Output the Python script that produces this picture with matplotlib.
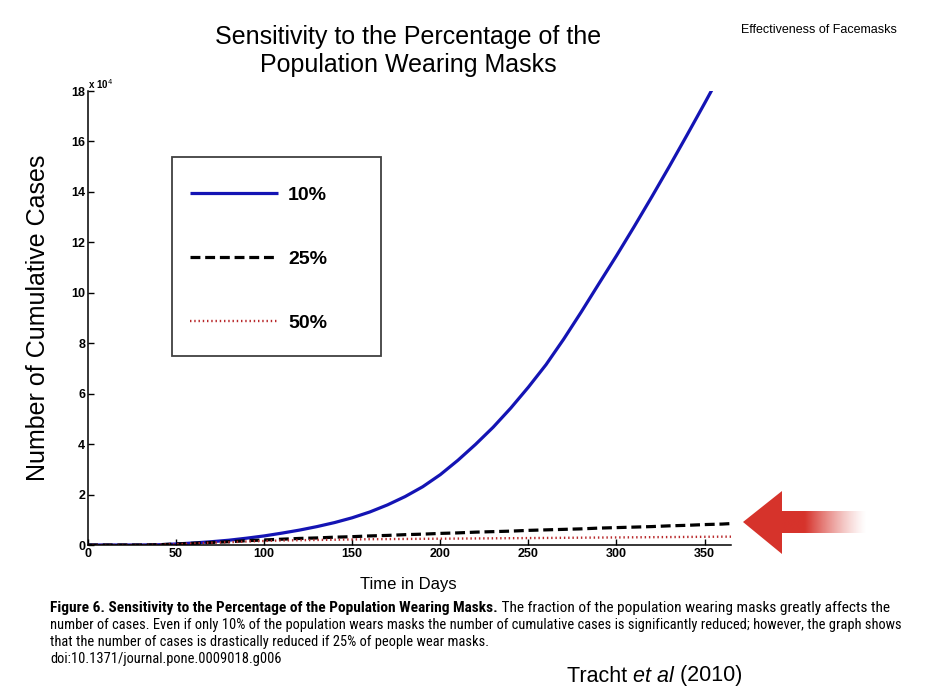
import numpy as np
import matplotlib
matplotlib.use("Agg")
import matplotlib.pyplot as plt
from matplotlib.ticker import FuncFormatter
from matplotlib.patches import Polygon, Rectangle
from matplotlib.text import Annotation
from matplotlib import font_manager

# ---------------- data (cumulative cases, in units of 1e4) ----------------
days = [0, 10, 20, 30, 40, 50, 60, 70, 80, 90, 100, 110, 120, 130, 140, 150,
        160, 170, 180, 190, 200, 210, 220, 230, 240, 250, 260, 270, 280, 290,
        300, 310, 320, 330, 340, 350, 360, 365]
mask10 = [0, 0, 0, 0, 0.01, 0.04, 0.08, 0.13, 0.19, 0.27, 0.36, 0.47, 0.59,
          0.73, 0.89, 1.08, 1.31, 1.59, 1.92, 2.31, 2.79, 3.36, 3.99, 4.67,
          5.43, 6.26, 7.15, 8.16, 9.24, 10.36, 11.47, 12.62, 13.80, 15.01,
          16.25, 17.51, 18.79, 19.43]
mask25 = [0, 0, 0, 0, 0.01, 0.04, 0.07, 0.10, 0.13, 0.17, 0.20, 0.23, 0.26,
          0.28, 0.31, 0.33, 0.36, 0.38, 0.41, 0.43, 0.46, 0.48, 0.51, 0.53,
          0.55, 0.58, 0.60, 0.62, 0.64, 0.67, 0.69, 0.71, 0.73, 0.76, 0.78,
          0.81, 0.83, 0.85]
mask50 = [0, 0, 0, 0, 0.01, 0.03, 0.06, 0.09, 0.11, 0.14, 0.16, 0.18, 0.19,
          0.20, 0.21, 0.22, 0.23, 0.235, 0.24, 0.245, 0.25, 0.255, 0.26, 0.265,
          0.27, 0.275, 0.28, 0.285, 0.29, 0.295, 0.30, 0.305, 0.31, 0.315,
          0.32, 0.325, 0.33, 0.33]
scale = 1e4
labels = ["10%", "25%", "50%"]
xticks = [0, 50, 100, 150, 200, 250, 300, 350]
yticks = [0, 2, 4, 6, 8, 10, 12, 14, 16, 18]

title = "Sensitivity to the Percentage of the\nPopulation Wearing Masks"
xlabel = "Time in Days"
ylabel = "Number of Cumulative Cases"
header = "Effectiveness of Facemasks"
cap_bold = "Figure 6. Sensitivity to the Percentage of the Population Wearing Masks."
cap_rest1 = " The fraction of the population wearing masks greatly affects the"
cap_lines = ["number of cases. Even if only 10% of the population wears masks the number of cumulative cases is significantly reduced; however, the graph shows",
             "that the number of cases is drastically reduced if 25% of people wear masks.",
             "doi:10.1371/journal.pone.0009018.g006"]

# ---------------- fonts ----------------
available = {f.name for f in font_manager.fontManager.ttflist}
narrow = next((n for n in ["Liberation Sans Narrow", "Arial Narrow",
                           "DejaVu Sans Condensed", "Roboto Condensed",
                           "Open Sans Condensed", "Liberation Sans"]
               if n in available), "DejaVu Sans")
SANS = "Liberation Sans"

# ---------------- figure ----------------
W, H = 926, 700
fig = plt.figure(figsize=(W / 100, H / 100), dpi=100)
fig.patch.set_facecolor("white")

ax = fig.add_axes([88 / W, 1 - 545 / H, (731 - 88) / W, (545 - 91) / H])

x = np.array(days)
l1, = ax.plot(x, np.array(mask10) * scale, color="#1414b4", lw=2.3,
              solid_capstyle="butt")
l2, = ax.plot(x, np.array(mask25) * scale, color="black", lw=2.3,
              linestyle=(0, (3.1, 1.5)))
l3, = ax.plot(x, np.array(mask50) * scale, color="#b8282a", lw=1.7,
              linestyle=(0, (0.6, 1.2)))

ax.set_xlim(0, 365)
ax.set_ylim(0, 18 * scale)
ax.set_xticks(xticks)
ax.set_yticks([v * scale for v in yticks])
ax.yaxis.set_major_formatter(FuncFormatter(lambda v, p: f"{v / scale:g}"))
for s in ("top", "right"):
    ax.spines[s].set_visible(False)
for s in ("left", "bottom"):
    ax.spines[s].set_linewidth(1.1)
ax.tick_params(direction="in", length=4, width=1, pad=2, labelsize=9)
for t in ax.get_xticklabels() + ax.get_yticklabels():
    t.set_fontweight("bold")
    t.set_family(SANS)

ax.text(0.0, 1.0, r"x 10$^4$", transform=ax.transAxes, fontsize=7,
        fontweight="bold", family=SANS, ha="left", va="bottom")


# legend (content placed without frame, box drawn separately)
def ax_x(px):
    return (px - 88) / 643


def ax_y(py):
    return (545 - py) / 454


leg = ax.legend([l1, l2, l3], labels, loc="upper left",
                bbox_to_anchor=(ax_x(190), ax_y(186)),
                borderaxespad=0, borderpad=0, frameon=False,
                handlelength=4.5, handletextpad=0.55, labelspacing=2.4,
                prop={"family": SANS, "weight": "bold", "size": 14})
ax.add_patch(Rectangle((ax_x(172), ax_y(356)), ax_x(381) - ax_x(172),
                       ax_y(157) - ax_y(356), transform=ax.transAxes,
                       facecolor="none", edgecolor="#404040", lw=1.3,
                       zorder=5))

# texts
fig.text(408 / W, 1 - 51 / H, title, ha="center", va="center", fontsize=18,
         family=SANS, linespacing=1.2)
fig.text(408 / W, 1 - 585 / H, xlabel, ha="center", va="center",
         fontsize=12, family=SANS)
fig.text(38 / W, 1 - 318 / H, ylabel, ha="center", va="center",
         rotation=90, fontsize=18, family=SANS)
fig.text(897 / W, 1 - 30 / H, header, ha="right", va="center",
         fontsize=9, family=SANS)

# caption: fit lines into the reference width
renderer = fig.canvas.get_renderer()


def width_at10(s, **kw):
    p = fig.text(0, 0, s, fontsize=10, family=narrow, **kw)
    w = p.get_window_extent(renderer).width
    p.remove()
    return w


capsize = 10 * 847 / width_at10(cap_lines[0])
line1size = 10 * 847 / (width_at10(cap_bold, fontweight="bold")
                        + width_at10(cap_rest1))
line1size = min(line1size, capsize * 1.06)

tb = fig.text(50 / W, 1 - 608 / H, cap_bold, ha="left", va="center",
              fontsize=line1size, fontweight="bold", family=narrow)
fig.add_artist(Annotation(cap_rest1, xy=(1, 0.5), xycoords=tb, va="center",
                          ha="left", fontsize=line1size, family=narrow))
for i, line in enumerate(cap_lines):
    fig.text(50 / W, 1 - (625 + 17 * i) / H, line, ha="left", va="center",
             fontsize=capsize, family=narrow)

# citation with italic part
t1 = fig.text(567 / W, 1 - 676 / H, "Tracht ", ha="left", va="center",
              fontsize=15.5, family=SANS)
a1 = fig.add_artist(Annotation("et al", xy=(1, 0.5), xycoords=t1,
                               va="center", ha="left", fontsize=15.5,
                               family=SANS, style="italic"))
fig.add_artist(Annotation(" (2010)", xy=(1, 0.5), xycoords=a1, va="center",
                          ha="left", fontsize=15.5, family=SANS))

# decorative red arrow
deco = fig.add_axes([0, 0, 1, 1], facecolor="none")
deco.axis("off")
red = np.array([0.84, 0.2, 0.17])
deco.add_patch(Polygon([[743, 522], [782, 491], [782, 554]], closed=True,
                       facecolor=red, edgecolor="none"))
xs = np.linspace(781, 868, 200)
alpha = np.clip(1 - (xs - 805) / 62, 0, 1) ** 1.3
img = np.zeros((2, len(xs), 4))
img[..., :3] = red
img[..., 3] = alpha
deco.imshow(img, extent=[781, 868, 533.5, 511.5], aspect="auto",
            interpolation="bilinear")
deco.set_xlim(0, W)
deco.set_ylim(H, 0)

fig.savefig("out.png", dpi=100, facecolor="white")
